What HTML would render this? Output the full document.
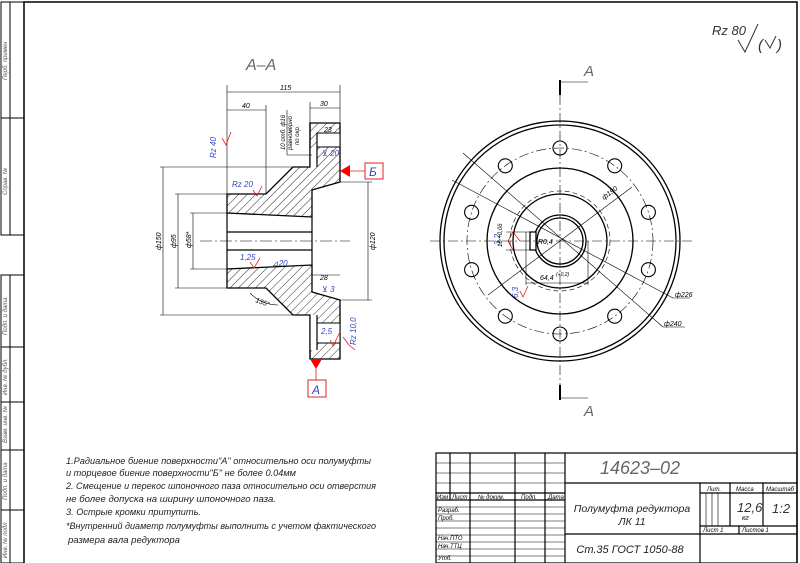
<!DOCTYPE html>
<html><head><meta charset="utf-8"><style>
html,body{margin:0;padding:0;background:#fff}
svg{display:block}
text{font-family:"Liberation Sans","DejaVu Sans",sans-serif;font-style:italic}
</style></head><body>
<svg width="800" height="563" viewBox="0 0 800 563" xmlns="http://www.w3.org/2000/svg">
<defs>
<pattern id="h" patternUnits="userSpaceOnUse" width="6" height="6" patternTransform="rotate(45)">
<line x1="0" y1="0" x2="0" y2="6" stroke="#000" stroke-width="0.8"/>
</pattern>
</defs>
<rect width="800" height="563" fill="#fff"/>
<g fill="none" stroke="#000" stroke-width="1.5">
<rect x="24" y="2" width="773" height="562"/>
</g>
<g fill="none" stroke="#000" stroke-width="1">
<rect x="1" y="2" width="23" height="233"/>
<line x1="10" y1="2" x2="10" y2="235"/>
<line x1="1" y1="118" x2="24" y2="118"/>
<rect x="1" y="275" width="23" height="288"/>
<line x1="10" y1="275" x2="10" y2="563"/>
<line x1="1" y1="347" x2="24" y2="347"/>
<line x1="1" y1="402" x2="24" y2="402"/>
<line x1="1" y1="450" x2="24" y2="450"/>
<line x1="1" y1="510" x2="24" y2="510"/>
</g>
<g font-size="6" fill="#555">
<text transform="translate(7,80) rotate(-90)">Перб. примен</text>
<text transform="translate(7,195) rotate(-90)">Справ. №</text>
<text transform="translate(7,335) rotate(-90)">Подп. и дата</text>
<text transform="translate(7,395) rotate(-90)">Инв. № дубл.</text>
<text transform="translate(7,443) rotate(-90)">Взам. инв. №</text>
<text transform="translate(7,500) rotate(-90)">Подп. и дата</text>
<text transform="translate(7,558) rotate(-90)">Инв. № подл.</text>
</g>
<text x="712" y="35" font-size="13" fill="#333">Rz 80</text>
<path d="M738 40 L745 52 L758 24" fill="none" stroke="#333" stroke-width="1"/>
<text x="758" y="50" font-size="15" fill="#333" font-style="normal">(</text>
<path d="M765 40 L770 48 L776 36" fill="none" stroke="#333" stroke-width="1"/>
<text x="777" y="50" font-size="15" fill="#333" font-style="normal">)</text>

<text x="246" y="70" font-size="16" fill="#666">А–А</text>
<g stroke="#000" stroke-width="1.3" fill="url(#h)">
<path d="M227 194 L266 194 L293 167 L310 167 L310 123 L340 123 L340 182 L312 190 L312 217 L227 213 Z"/>
<path d="M227 288 L266 288 L293 315 L310 315 L310 359 L340 359 L340 300 L312 292 L312 265 L227 269 Z"/>
</g>
<g fill="#fff" stroke="#000" stroke-width="1">
<rect x="317" y="133" width="23" height="14"/>
<rect x="317" y="323" width="23" height="20"/>
<rect x="310" y="148" width="7" height="19" stroke="none"/>
<rect x="310" y="315" width="7" height="35" stroke="none"/>
</g>
<g stroke="#000" stroke-width="1.2" fill="none">
<line x1="310" y1="123" x2="310" y2="167"/><line x1="317" y1="133" x2="317" y2="167"/>
<line x1="310" y1="315" x2="310" y2="359"/><line x1="317" y1="315" x2="317" y2="350"/>
<line x1="227" y1="232" x2="312" y2="232"/><line x1="227" y1="250" x2="312" y2="250"/>
<line x1="227" y1="213" x2="227" y2="269"/><line x1="312" y1="217" x2="312" y2="265"/>
</g>
<line x1="200" y1="241" x2="350" y2="241" stroke="#000" stroke-width="0.6" stroke-dasharray="12 3 2 3"/>
<g stroke="#000" stroke-width="0.6" fill="none">
<line x1="227" y1="85" x2="227" y2="194"/><line x1="340" y1="85" x2="340" y2="123"/>
<line x1="227" y1="92" x2="340" y2="92"/>
<line x1="266" y1="105" x2="266" y2="194"/><line x1="227" y1="110" x2="266" y2="110"/>
<line x1="310" y1="102" x2="310" y2="123"/><line x1="310" y1="108" x2="340" y2="108"/>
<line x1="160" y1="167" x2="293" y2="167"/><line x1="160" y1="315" x2="293" y2="315"/>
<line x1="163" y1="167" x2="163" y2="315"/>
<line x1="175" y1="194" x2="227" y2="194"/><line x1="175" y1="288" x2="227" y2="288"/>
<line x1="178" y1="194" x2="178" y2="288"/>
<line x1="190" y1="213" x2="227" y2="213"/><line x1="190" y1="269" x2="227" y2="269"/>
<line x1="193" y1="213" x2="193" y2="269"/>
<line x1="340" y1="182" x2="372" y2="182"/><line x1="340" y1="300" x2="372" y2="300"/>
<line x1="368" y1="182" x2="368" y2="300"/>
<line x1="312" y1="275" x2="340" y2="275"/>
<line x1="287" y1="110" x2="287" y2="155"/><line x1="287" y1="155" x2="312" y2="155"/>
<path d="M250 293 A40 40 0 0 0 278 305"/>
</g>
<g font-size="7" fill="#000">
<text x="280" y="90">115</text><text x="242" y="108">40</text><text x="320" y="106">30</text>
<text x="324" y="132">23</text><text x="320" y="280">28</text>
<text transform="translate(161,250) rotate(-90)">ф150</text>
<text transform="translate(176,248) rotate(-90)">ф95</text>
<text transform="translate(191,248) rotate(-90)">ф58*</text>
<text transform="translate(375,250) rotate(-90)">ф120</text>
<text transform="translate(285,150) rotate(-90)" font-size="6">10 отб. ф16</text>
<text transform="translate(292,150) rotate(-90)" font-size="6">равномерно</text>
<text transform="translate(299,145) rotate(-90)" font-size="6">по окр.</text>
<text transform="translate(255,302) rotate(20)">135°</text>
</g>
<g font-size="8" fill="#3344bb">
<text transform="translate(216,158) rotate(-90)">Rz 40</text>
<text x="232" y="187">Rz 20</text>
<text x="240" y="260">1,25</text>
<text x="272" y="266">⊿20</text>
<text x="322" y="156">⊻ 20</text>
<text x="322" y="292">⊻ 3</text>
<text x="321" y="334">2,5</text>
<text transform="translate(356,345) rotate(-90)">Rz 10,0</text>
<text transform="translate(500,245) rotate(-90)">3,2</text>
<text transform="translate(518,298) rotate(-90)">6,3</text>
</g>
<g stroke="#e02020" stroke-width="0.8" fill="none">
<path d="M222 138 L226 145 L231 132"/><path d="M253 190 L257 196 L262 186"/>
<path d="M250 262 L254 268 L260 258"/><path d="M343 337 L349 345 L355 350"/>
<path d="M330 340 L333 346 L340 332"/>
<line x1="340" y1="171" x2="365" y2="171"/>
<line x1="316" y1="365" x2="316" y2="380"/>
<path d="M513 232 L508 241 L513 250 M513 232 L520 241"/>
<path d="M520 291 L523 297 L528 286"/>
</g>
<polygon points="340,171 350,165 350,177" fill="#f00"/>
<polygon points="310,359 322,359 316,369" fill="#f00"/>
<rect x="365" y="163" width="18" height="16" fill="#fff" stroke="#e02020"/>
<text x="369" y="176" font-size="12" fill="#3344bb">Б</text>
<rect x="308" y="380" width="18" height="17" fill="#fff" stroke="#e02020"/>
<text x="312" y="394" font-size="12" fill="#3344bb">А</text>

<g stroke="#000" stroke-width="1.3" fill="none">
<circle cx="560" cy="241" r="120"/><circle cx="560" cy="241" r="116"/>
<circle cx="560" cy="241" r="73"/><circle cx="560" cy="241" r="47"/>
<circle cx="560" cy="241" r="26"/><circle cx="560" cy="241" r="23"/>
<g stroke-width="1.1">
<circle cx="560" cy="148" r="7"/><circle cx="614.7" cy="165.8" r="7"/><circle cx="648.4" cy="212.3" r="7"/>
<circle cx="648.4" cy="269.7" r="7"/><circle cx="614.7" cy="316.2" r="7"/><circle cx="560" cy="334" r="7"/>
<circle cx="505.3" cy="316.2" r="7"/><circle cx="471.6" cy="269.7" r="7"/><circle cx="471.6" cy="212.3" r="7"/>
<circle cx="505.3" cy="165.8" r="7"/>
</g>
<path d="M530 232 L530 250 L536 250 L536 232 Z" fill="#fff"/>
</g>
<g stroke="#000" stroke-width="0.6" fill="none" stroke-dasharray="10 3 2 3">
<circle cx="560" cy="241" r="93"/>
<circle cx="560" cy="241" r="50" stroke-dasharray="5 3"/>
<line x1="430" y1="241" x2="692" y2="241"/>
<line x1="560" y1="95" x2="560" y2="385"/>
</g>
<g stroke="#000" stroke-width="0.6" fill="none">
<line x1="463" y1="153" x2="663" y2="327"/><line x1="663" y1="327" x2="685" y2="327"/>
<line x1="452" y1="180" x2="673" y2="298"/><line x1="673" y1="298" x2="690" y2="298"/>
<line x1="488" y1="295" x2="632" y2="187"/>
<line x1="526" y1="232" x2="526" y2="285"/><line x1="588" y1="241" x2="588" y2="285"/>
<line x1="526" y1="283" x2="588" y2="283"/>
<line x1="506" y1="232" x2="530" y2="232"/><line x1="506" y1="250" x2="530" y2="250"/>
</g>
<g font-size="7" fill="#000">
<text x="675" y="297">ф226</text><text x="664" y="326">ф240</text>
<text transform="translate(604,200) rotate(-37)">ф190</text>
<text x="538" y="244">R0,4</text>
<text x="540" y="280">64,4</text><text x="556" y="276" font-size="5">(+0,2)</text>
<text transform="translate(502,247) rotate(-90)" font-size="6">18 +0,06</text>
</g>
<g stroke="#000" fill="none">
<path d="M560 80 L560 95" stroke-width="2"/><line x1="560" y1="82" x2="588" y2="82" stroke-width="0.6"/>
<path d="M560 385 L560 400" stroke-width="2"/><line x1="560" y1="398" x2="588" y2="398" stroke-width="0.6"/>
</g>
<text x="584" y="76" font-size="15" fill="#666">А</text>
<text x="584" y="416" font-size="15" fill="#666">А</text>

<g font-size="9" fill="#222">
<text x="66" y="464" textLength="305" lengthAdjust="spacingAndGlyphs">1.Радиальное биение поверхности"А" относительно оси полумуфты</text>
<text x="66" y="476" textLength="230" lengthAdjust="spacingAndGlyphs">и торцевое биение поверхности"Б" не более 0.04мм</text>
<text x="66" y="489" textLength="310" lengthAdjust="spacingAndGlyphs">2. Смещение и перекос шпоночного паза относительно оси отверстия</text>
<text x="66" y="502" textLength="210" lengthAdjust="spacingAndGlyphs">не более допуска на ширину шпоночного паза.</text>
<text x="66" y="515" textLength="135" lengthAdjust="spacingAndGlyphs">3. Острые кромки притупить.</text>
<text x="66" y="529" textLength="310" lengthAdjust="spacingAndGlyphs">*Внутренний диаметр полумуфты выполнить с учетом фактического</text>
<text x="68" y="543" textLength="112" lengthAdjust="spacingAndGlyphs">размера вала редуктора</text>
</g>

<g stroke="#000" stroke-width="1.2" fill="none">
<rect x="436" y="453" width="361" height="110"/>
<line x1="565" y1="453" x2="565" y2="563"/>
<line x1="565" y1="483" x2="797" y2="483"/>
<line x1="565" y1="534" x2="797" y2="534"/>
<line x1="700" y1="483" x2="700" y2="563"/>
<line x1="730" y1="483" x2="730" y2="526"/><line x1="763" y1="483" x2="763" y2="526"/>
<line x1="700" y1="493" x2="797" y2="493"/><line x1="700" y1="526" x2="797" y2="526"/>
<line x1="739" y1="526" x2="739" y2="534"/>
<line x1="450" y1="453" x2="450" y2="500"/><line x1="470" y1="453" x2="470" y2="563"/>
<line x1="515" y1="453" x2="515" y2="563"/><line x1="545" y1="453" x2="545" y2="563"/>
<line x1="436" y1="493" x2="565" y2="493"/><line x1="436" y1="500" x2="565" y2="500"/>
</g>
<g stroke="#000" stroke-width="0.6" fill="none">
<line x1="436" y1="463" x2="565" y2="463"/><line x1="436" y1="473" x2="565" y2="473"/>
<line x1="436" y1="483" x2="565" y2="483"/>
<line x1="436" y1="507" x2="565" y2="507"/><line x1="436" y1="514" x2="565" y2="514"/>
<line x1="436" y1="521" x2="565" y2="521"/><line x1="436" y1="528" x2="565" y2="528"/>
<line x1="436" y1="535" x2="565" y2="535"/><line x1="436" y1="542" x2="565" y2="542"/>
<line x1="436" y1="549" x2="565" y2="549"/><line x1="436" y1="556" x2="565" y2="556"/>
<line x1="706" y1="493" x2="706" y2="526"/><line x1="712" y1="493" x2="712" y2="526"/>
<line x1="718" y1="493" x2="718" y2="526"/>
</g>
<g font-size="6" fill="#000">
<text x="437" y="499">Изм</text><text x="452" y="499">Лист</text><text x="478" y="499">№ докум.</text>
<text x="521" y="499">Подп.</text><text x="548" y="499">Дата</text>
<text x="438" y="512">Разраб.</text><text x="438" y="520">Проб.</text>
<text x="438" y="540">Нач.ПТО</text><text x="438" y="548">Нач.ТТЦ</text><text x="438" y="560">Утб.</text>
<text x="707" y="491">Лит.</text><text x="736" y="491">Масса</text><text x="766" y="491">Масштаб</text>
<text x="703" y="532">Лист 1</text><text x="742" y="532">Листов 1</text>
<text x="742" y="520" font-size="7">кг</text>
</g>
<text x="640" y="474" font-size="18" fill="#666" text-anchor="middle">14623–02</text>
<text x="632" y="512" font-size="10.5" fill="#222" text-anchor="middle">Полумуфта редуктора</text>
<text x="632" y="525" font-size="10.5" fill="#222" text-anchor="middle">ЛК 11</text>
<text x="630" y="553" font-size="11" fill="#222" text-anchor="middle">Ст.35 ГОСТ 1050-88</text>
<text x="737" y="512" font-size="13" fill="#333">12,6</text>
<text x="772" y="513" font-size="13" fill="#333">1:2</text>
</svg>
</body></html>
